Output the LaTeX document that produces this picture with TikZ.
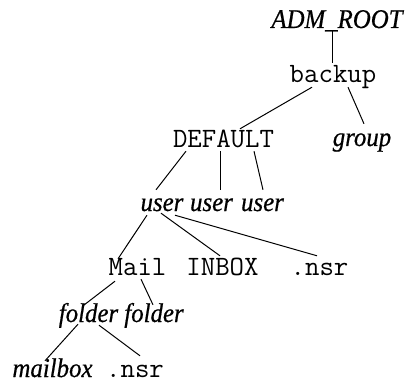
\documentclass[tikz,border=0pt]{standalone}
\usepackage{fontspec}
\setmainfont{Liberation Serif}
\newfontfamily\itfont{Liberation Serif Italic}[FakeStretch=0.92,FakeBold=0.6]
\begin{document}
\begin{tikzpicture}[x=1pt,y=-1pt,
  every node/.style={inner sep=0pt, anchor=base, text height=18pt, text depth=4pt},
  ital/.style={font=\fontsize{27}{32}\itfont},
  mono/.style={font=\fontsize{28}{32}\selectfont\ttfamily},
  edge/.style={line width=1pt}]
\useasboundingbox (0,0) rectangle (415,385);
\node[ital] (root) at (337,28) {ADM\_ROOT};
\node[mono] (backup) at (333,83) {backup};
\node[mono] (default) at (223.5,147) {DEFAULT};
\node[ital] (group) at (362,146) {group};
\node[ital] (user1) at (162,211) {user};
\node[ital] (user2) at (211.5,211) {user};
\node[ital] (user3) at (262.5,211) {user};
\node[mono] (mail) at (137.5,275) {Mail};
\node[mono] (inbox) at (222.5,275) {INBOX};
\node[mono] (nsra) at (319.5,275) {.nsr};
\node[ital] (folder1) at (88.5,322) {folder};
\node[ital] (folder2) at (154,322) {folder};
\node[ital] (mailbox) at (52.5,377) {mailbox};
\node[mono] (nsrb) at (135,377) {.nsr};

\draw[edge] ([xshift=-5pt,yshift=2pt]root.south) -- ([xshift=-1pt,yshift=2pt]backup.north);
\draw[edge] ([xshift=-21pt]backup.south) -- ([xshift=16.5pt]default.north);
\draw[edge] ([xshift=15pt]backup.south) -- ([xshift=2pt,yshift=4pt]group.north);
\draw[edge] ([xshift=-37.5pt]default.south) -- ([xshift=-6pt,yshift=3pt]user1.north);
\draw[edge] ([xshift=-3.5pt]default.south) -- ([xshift=8.5pt,yshift=3pt]user2.north);
\draw[edge] ([xshift=30.5pt]default.south) -- ([xshift=0.5pt,yshift=3pt]user3.north);
\draw[edge] ([xshift=-15pt]user1.south) -- ([xshift=-19.5pt,yshift=-2pt]mail.north);
\draw[edge] ([xshift=-1pt,yshift=2pt]user1.south) -- ([xshift=-2.5pt,yshift=1pt]inbox.north);
\draw[edge] ([xshift=13pt]user1.south) -- ([xshift=-2.5pt,yshift=1pt]nsra.north);
\draw[edge] ([xshift=-22.5pt,yshift=-2pt]mail.south) -- ([xshift=-5.5pt,yshift=-2pt]folder1.north);
\draw[edge] ([xshift=3.5pt]mail.south) -- ([xshift=-1pt,yshift=-1pt]folder2.north);
\draw[edge] ([xshift=-10.5pt,yshift=2pt]folder1.south) -- ([xshift=-7.5pt,yshift=-2pt]mailbox.north);
\draw[edge] ([xshift=10.5pt,yshift=1pt]folder1.south) -- ([xshift=5pt,yshift=3pt]nsrb.north);
\end{tikzpicture}
\end{document}
